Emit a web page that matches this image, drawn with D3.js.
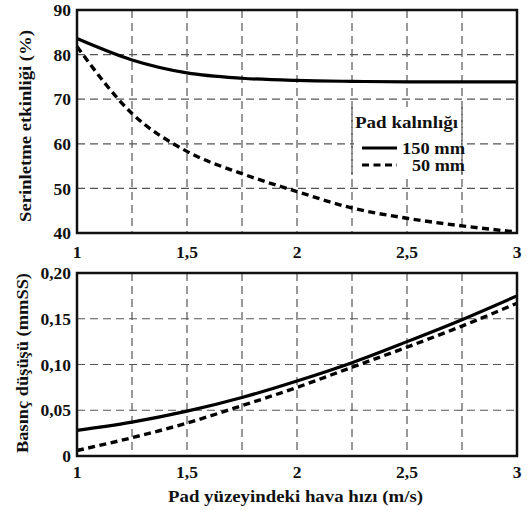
<!DOCTYPE html>
<html><head><meta charset="utf-8">
<script src="https://cdn.jsdelivr.net/npm/d3@7"></script>
<style>
html,body{margin:0;padding:0;background:#fff;}
svg text{font-family:"Liberation Serif","Times New Roman",serif;font-weight:bold;fill:#111;}
</style></head>
<body>
<svg id="c" width="527" height="510"></svg>
<script>
const xVals = [1, 1.25, 1.5, 1.75, 2, 2.25, 2.5, 2.75, 3];
const eff150 = [83.6, 78.8, 75.9, 74.7, 74.2, 74.0, 73.9, 73.9, 73.9];
const eff50 = [81.8, 66.8, 58.3, 53.3, 49.3, 45.6, 43.3, 41.6, 40.2];
const dp150 = [0.028, 0.037, 0.049, 0.064, 0.082, 0.102, 0.125, 0.149, 0.175];
const dp50 = [0.006, 0.020, 0.036, 0.055, 0.075, 0.097, 0.119, 0.142, 0.167];
const xTicks = [1, 1.5, 2, 2.5, 3];
const xTickLabels = ["1", "1,5", "2", "2,5", "3"];
const xGrid = [1.25, 1.5, 1.75, 2, 2.25, 2.5, 2.75];
const effTicks = [40, 50, 60, 70, 80, 90];
const dpTicks = [0, 0.05, 0.10, 0.15, 0.20];
const dpTickLabels = ["0", "0,05", "0,10", "0,15", "0,20"];
const seriesNames = ["150 mm", "50 mm"];
const legendTitle = "Pad kalınlığı";
const xTitle = "Pad yüzeyindeki hava hızı (m/s)";
const yTitleTop = "Serinletme etkinliği (%)";
const yTitleBottom = "Basınç düşüşü (mmSS)";

const svg = d3.select("#c");
const L = 77, R = 517;
const x = d3.scaleLinear().domain([1, 3]).range([L, R]);
const yTop = d3.scaleLinear().domain([40, 90]).range([233, 10]);
const yBot = d3.scaleLinear().domain([0, 0.20]).range([456, 273]);

const gridStyle = s => s.attr("stroke", "#555").attr("stroke-width", 1.2).attr("stroke-dasharray", "8,5");

function panel(y, yTicks, yLabels, s150, s50, xLabelY) {
  const g = svg.append("g");
  const [y0, y1] = y.range();
  g.selectAll("line.vg").data(xGrid).join("line")
    .attr("x1", d => x(d)).attr("x2", d => x(d)).attr("y1", y1).attr("y2", y0).call(gridStyle);
  g.selectAll("line.hg").data(yTicks.slice(1, -1)).join("line").attr("class","hg")
    .attr("x1", L).attr("x2", R).attr("y1", d => y(d)).attr("y2", d => y(d)).call(gridStyle);
  const line = arr => d3.line().x((d, i) => x(xVals[i])).y(d => y(d)).curve(d3.curveMonotoneX)(arr);
  g.append("path").attr("d", line(s150)).attr("fill", "none").attr("stroke", "#000").attr("stroke-width", 3.2);
  g.append("path").attr("d", line(s50)).attr("fill", "none").attr("stroke", "#000").attr("stroke-width", 3.4).attr("stroke-dasharray", "7,4.5");
  g.append("rect").attr("x", L).attr("y", y1).attr("width", R - L).attr("height", y0 - y1)
    .attr("fill", "none").attr("stroke", "#111").attr("stroke-width", 2.5);
  g.selectAll("text.yl").data(yTicks).join("text")
    .attr("x", 71).attr("y", d => y(d)).attr("dy", "0.35em").attr("text-anchor", "end")
    .attr("font-size", 17.5).text((d, i) => yLabels[i]);
  g.selectAll("text.xl").data(xTicks).join("text")
    .attr("x", d => x(d)).attr("y", xLabelY).attr("text-anchor", "middle")
    .attr("font-size", 17.5).text((d, i) => xTickLabels[i]);
  return g;
}

panel(yTop, effTicks, effTicks.map(String), eff150, eff50, 258);
panel(yBot, dpTicks, dpTickLabels, dp150, dp50, 478);

const stretch = (sel, len) => sel.attr("textLength", len).attr("lengthAdjust", "spacingAndGlyphs");

svg.append("text").attr("transform", "translate(31,126) rotate(-90)").attr("text-anchor", "middle")
  .attr("font-size", 16).text(yTitleTop).call(stretch, 192);
svg.append("text").attr("transform", "translate(28,363) rotate(-90)").attr("text-anchor", "middle")
  .attr("font-size", 16).text(yTitleBottom).call(stretch, 180);
svg.append("text").attr("x", 295.5).attr("y", 502).attr("text-anchor", "middle")
  .attr("font-size", 16.5).text(xTitle).call(stretch, 255);

// legend
const lg = svg.append("g");
lg.append("rect").attr("x", 354).attr("y", 107).attr("width", 107).attr("height", 68).attr("fill", "#fff");
lg.append("line").attr("x1", x(2.25)).attr("x2", x(2.25)).attr("y1", 107).attr("y2", 175).call(gridStyle);
lg.append("line").attr("x1", x(2.75)).attr("x2", x(2.75)).attr("y1", 107).attr("y2", 175).call(gridStyle);
lg.append("text").attr("x", 406.5).attr("y", 128).attr("text-anchor", "middle").attr("font-size", 16).text(legendTitle).call(stretch, 103);
const legY = [148, 165];
const legW = [63, 53];
lg.selectAll("line.ls").data(seriesNames).join("line")
  .attr("x1", 362).attr("x2", 397).attr("y1", (d, i) => legY[i]).attr("y2", (d, i) => legY[i])
  .attr("stroke", "#000").attr("stroke-width", 3)
  .attr("stroke-dasharray", (d, i) => i ? "7,4.5" : null);
lg.selectAll("text.lt").data(seriesNames).join("text")
  .attr("x", 465).attr("y", (d, i) => legY[i]).attr("dy", "0.35em").attr("text-anchor", "end")
  .attr("font-size", 16).attr("textLength", (d, i) => legW[i]).attr("lengthAdjust", "spacingAndGlyphs")
  .text(d => d);
</script>
</body></html>
